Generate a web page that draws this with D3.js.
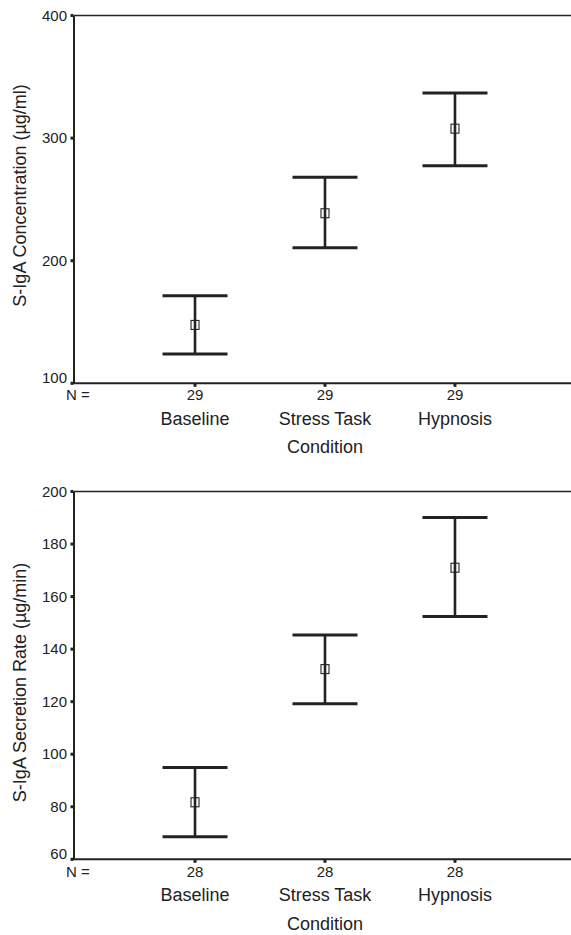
<!DOCTYPE html>
<html>
<head>
<meta charset="utf-8">
<script src="https://cdn.jsdelivr.net/npm/d3@7"></script>
<style>
  html, body { margin: 0; padding: 0; background: #fff; }
  svg { display: block; }
  text { font-family: "Liberation Sans", Arial, Helvetica, sans-serif; fill: #222; }
</style>
</head>
<body>
<svg id="chart" width="571" height="935"></svg>
<script>
// ---- Data ----
const categories = ["Baseline", "Stress Task", "Hypnosis"];

// Panel 1: S-IgA concentration (µg/ml)
const concMean  = [147.6, 238.7, 307.7];
const concUpper = [171.4, 268.0, 336.8];
const concLower = [123.9, 210.6, 277.5];
const concN     = [29, 29, 29];
const concTicks = [100, 200, 300, 400];

// Panel 2: S-IgA secretion rate (µg/min)
const rateMean  = [81.7, 132.4, 171.0];
const rateUpper = [94.9, 145.4, 190.1];
const rateLower = [68.6, 119.2, 152.4];
const rateN     = [28, 28, 28];
const rateTicks = [60, 80, 100, 120, 140, 160, 180, 200];

const xTitle = "Condition";

// ---- Layout ----
const svg = d3.select("#chart");
const W = 571;
const axisX = 74;
const ink = "#222";

const panels = [
  { title: "S-IgA Concentration (µg/ml)", mean: concMean, upper: concUpper, lower: concLower,
    n: concN, ticks: concTicks, top: 15.5, bottom: 383.3, titleShift: -4,
    nDy: 17, catDy: 42, condDy: 70 },
  { title: "S-IgA Secretion Rate (µg/min)", mean: rateMean, upper: rateUpper, lower: rateLower,
    n: rateN, ticks: rateTicks, top: 491.5, bottom: 859.3, titleShift: 7,
    nDy: 18, catDy: 42, condDy: 70.5 }
];

const x = d3.scalePoint().domain(categories).range([axisX, 576]).padding(0.931);

panels.forEach(p => {
  const y = d3.scaleLinear()
    .domain(d3.extent(p.ticks))
    .range([p.bottom, p.top]);

  const g = svg.append("g");

  // y-axis line
  g.append("line")
    .attr("x1", axisX).attr("x2", axisX)
    .attr("y1", p.top).attr("y2", p.bottom)
    .attr("stroke", ink).attr("stroke-width", 2);
  // top frame line
  g.append("line")
    .attr("x1", axisX).attr("x2", W)
    .attr("y1", p.top).attr("y2", p.top)
    .attr("stroke", ink).attr("stroke-width", 1.5);
  // x-axis line
  g.append("line")
    .attr("x1", axisX - 3).attr("x2", W)
    .attr("y1", p.bottom).attr("y2", p.bottom)
    .attr("stroke", ink).attr("stroke-width", 2);

  // y ticks (small square marks) + labels
  const minT = d3.min(p.ticks);
  p.ticks.forEach(t => {
    g.append("rect")
      .attr("x", axisX - 3.5).attr("y", y(t) - 1.5)
      .attr("width", 3).attr("height", 3)
      .attr("fill", ink);
    g.append("text")
      .attr("x", axisX - 7)
      .attr("y", y(t) + (t === minT ? -6 : 0))
      .attr("dy", "0.35em")
      .attr("text-anchor", "end")
      .attr("font-size", 15)
      .text(t);
  });

  // x ticks (small square marks)
  categories.forEach(c => {
    g.append("rect")
      .attr("x", x(c) - 1.5).attr("y", p.bottom + 0.5)
      .attr("width", 3).attr("height", 3)
      .attr("fill", ink);
  });

  // N = row
  g.append("text")
    .attr("x", 66).attr("y", p.bottom + p.nDy)
    .attr("font-size", 15)
    .text("N =");
  categories.forEach((c, i) => {
    g.append("text")
      .attr("x", x(c)).attr("y", p.bottom + p.nDy)
      .attr("text-anchor", "middle")
      .attr("font-size", 15)
      .text(p.n[i]);
    g.append("text")
      .attr("x", x(c)).attr("y", p.bottom + p.catDy)
      .attr("text-anchor", "middle")
      .attr("font-size", 18)
      .text(c);
  });
  g.append("text")
    .attr("x", x(categories[1])).attr("y", p.bottom + p.condDy)
    .attr("text-anchor", "middle")
    .attr("font-size", 18)
    .text(xTitle);

  // y title
  g.append("text")
    .attr("transform", `translate(26,${(p.top + p.bottom) / 2 + p.titleShift}) rotate(-90)`)
    .attr("text-anchor", "middle")
    .attr("font-size", 18)
    .text(p.title);

  // error bars
  const capHalf = 32.5;
  categories.forEach((c, i) => {
    const cx = x(c);
    g.append("line")
      .attr("x1", cx).attr("x2", cx)
      .attr("y1", y(p.upper[i])).attr("y2", y(p.lower[i]))
      .attr("stroke", ink).attr("stroke-width", 2.6);
    [p.upper[i], p.lower[i]].forEach(v => {
      g.append("line")
        .attr("x1", cx - capHalf).attr("x2", cx + capHalf)
        .attr("y1", y(v)).attr("y2", y(v))
        .attr("stroke", ink).attr("stroke-width", 3);
    });
    g.append("rect")
      .attr("x", cx - 4).attr("y", y(p.mean[i]) - 4.5)
      .attr("width", 8).attr("height", 9)
      .attr("fill", "none")
      .attr("stroke", ink).attr("stroke-width", 1.1);
  });
});
</script>
</body>
</html>
